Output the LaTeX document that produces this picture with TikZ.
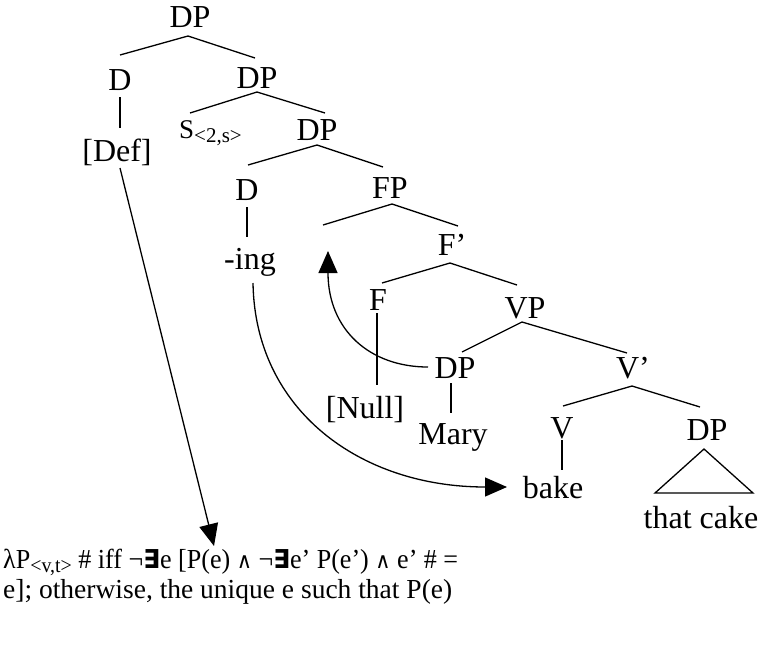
\documentclass[tikz,border=0pt]{standalone}
\usepackage{fontspec}
\usepackage{graphicx}
\setmainfont{Liberation Serif}
\newfontfamily\symf{DejaVu Sans}
\usetikzlibrary{arrows.meta}
\newcommand\subtxt[1]{\raisebox{-4pt}{\fontsize{21}{23}\selectfont #1}}
\newcommand\wedgesym{{\symf\fontsize{22}{24}\selectfont ∧}}
\newcommand\existsym{{\symf\bfseries\fontsize{26}{28}\selectfont ∃}}
\begin{document}
\begin{tikzpicture}[x=1pt,y=-1pt,
  lbl/.style={inner sep=0pt, font=\fontsize{32}{38}\selectfont},
  frm/.style={inner sep=0pt, font=\fontsize{27.5}{33}\selectfont},
  br/.style={line width=1.3pt},
  arr/.style={line width=1.3pt, -{Triangle[length=22pt,width=19pt]}}]
\useasboundingbox (0,0) rectangle (760,649);
% labels
\node[lbl] (dp1) at (190,17) {DP};
\node[lbl] (d1) at (120,80) {D};
\node[lbl] (def) at (117,152) {[Def]};
\node[lbl] (dp2) at (257,78) {DP};
\node[lbl, anchor=west] (sit) at (179,133) {\fontsize{27}{30}\selectfont S\subtxt{<2,s>}};
\node[lbl] (dp3) at (317,130) {DP};
\node[lbl] (d2) at (247,190) {D};
\node[lbl] (ing) at (250,262) {-ing};
\node[lbl] (fp) at (390,188) {FP};
\node[lbl] (fbar) at (452,245) {F’};
\node[lbl] (f) at (378,300) {F};
\node[lbl] (null) at (365,410) {[Null]};
\node[lbl] (vp) at (525,308) {VP};
\node[lbl] (dpm) at (455,368) {DP};
\node[lbl] (mary) at (453,437) {Mary};
\node[lbl] (vbar) at (633,368) {V’};
\node[lbl] (v) at (562,428) {V};
\node[lbl] (bake) at (553,488) {bake};
\node[lbl] (dpc) at (707,430) {DP};
\node[lbl] (cake) at (701,518) {that cake};
% branch points
\coordinate (a1) at (188,36); \coordinate (l1) at (120,55); \coordinate (r1) at (255,58);
\coordinate (d1a) at (120,97); \coordinate (d1b) at (120,128);
\coordinate (a2) at (257,92); \coordinate (l2) at (190,113); \coordinate (r2) at (325,113);
\coordinate (a3) at (317,145); \coordinate (l3) at (248,165); \coordinate (r3) at (383,167);
\coordinate (d2a) at (247,207); \coordinate (d2b) at (247,237);
\coordinate (a4) at (392,204); \coordinate (l4) at (323,225); \coordinate (r4) at (458,226);
\coordinate (a5) at (450,263); \coordinate (l5) at (382,283); \coordinate (r5) at (517,285);
\coordinate (fa) at (377,313); \coordinate (fb) at (377,385);
\coordinate (a6) at (522,322); \coordinate (l6) at (462,352); \coordinate (r6) at (627,353);
\coordinate (ma) at (451,383); \coordinate (mb) at (451,413);
\coordinate (a7) at (632,386); \coordinate (l7) at (563,406); \coordinate (r7) at (700,407);
\coordinate (va) at (562,440); \coordinate (vb) at (562,470);
\coordinate (ta) at (704,449); \coordinate (tl) at (655,493); \coordinate (tr) at (753,493);
\draw[br] (l1) -- (a1) -- (r1);
\draw[br] (d1a) -- (d1b);
\draw[br] (l2) -- (a2) -- (r2);
\draw[br] (l3) -- (a3) -- (r3);
\draw[br] (d2a) -- (d2b);
\draw[br] (l4) -- (a4) -- (r4);
\draw[br] (l5) -- (a5) -- (r5);
\draw[br] (fa) -- (fb);
\draw[br] (l6) -- (a6) -- (r6);
\draw[br] (ma) -- (mb);
\draw[br] (l7) -- (a7) -- (r7);
\draw[br] (va) -- (vb);
\draw[br] (ta) -- (tl) -- (tr) -- cycle;
% formula
\node[frm, anchor=base west] (f1) at (3,568) {\resizebox{455pt}{\height}{λP\subtxt{<v,t>} \# iff ¬\existsym e [P(e) \wedgesym{} ¬\existsym e’ P(e’) \wedgesym{} e’ \# =}};
\node[frm, anchor=base west] (f2) at (3,598) {e]; otherwise, the unique e such that P(e)};
% arrows
\coordinate (defb) at (120,168);
\coordinate (ingb) at (253,283);
\coordinate (fpl) at (328,251);
\coordinate (tipdef) at (214,546);
\coordinate (tipbake) at (507,487);
\coordinate (maryl) at (428,367);
\draw[arr] (defb) -- (tipdef);
\draw[arr] (ingb) .. controls (255,410) and (360,487) .. (tipbake);
\draw[arr] (maryl) .. controls (370,367) and (328,330) .. (fpl);
\end{tikzpicture}
\end{document}
